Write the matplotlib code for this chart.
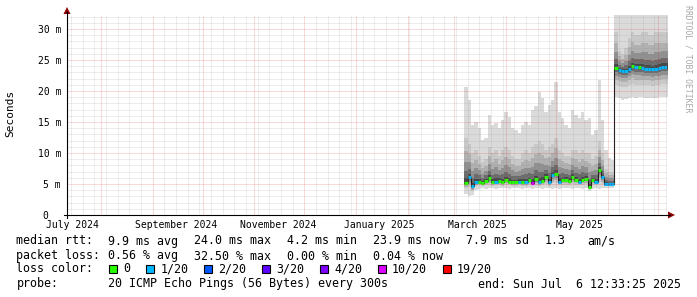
import numpy as np
import pandas as pd
import matplotlib
matplotlib.use("Agg")
import matplotlib.pyplot as plt
import matplotlib.dates as mdates
from matplotlib.lines import Line2D
from matplotlib.patches import Polygon, Rectangle

W, H = 697, 297
MONO = "DejaVu Sans Mono"

# graph covers the last 360 days
t_start = pd.Timestamp("2024-07-11 12:33:25")
t_end = pd.Timestamp("2025-07-06 12:33:25")

# first block (~5 ms), 2 day steps
s1_dates = pd.date_range("2025-03-07", periods=45, freq="2D")
s1_lo = [3.4, 3.1, 3.3, 4.0, 4.2, 4.3, 4.2, 4.3, 4.3, 4.2, 4.3, 4.3, 4.3, 4.2, 4.3,
         4.3, 4.3, 4.2, 4.3, 4.3, 4.2, 4.3, 4.3, 4.2, 4.3, 4.3, 4.2, 4.3, 4.2, 4.3,
         4.3, 4.3, 4.2, 4.3, 4.3, 4.2, 4.3, 3.9, 4.2, 4.3, 4.2, 4.3, 4.4, 4.4, 4.4]
s1_q1 = [4.3, 4.5, 3.8, 4.6, 4.8, 4.7, 4.8, 4.9, 4.7, 4.8, 4.8, 4.7, 4.9, 4.8, 4.7,
         4.7, 4.8, 4.7, 4.7, 4.9, 4.6, 4.9, 4.7, 4.8, 5.0, 4.7, 5.1, 5.2, 4.8, 4.9,
         4.9, 4.8, 5.0, 4.9, 4.8, 4.9, 5.0, 4.2, 4.9, 4.8, 5.4, 5.0, 4.6, 4.6, 4.6]
s1_med = [5.2, 6.1, 4.6, 5.3, 5.4, 5.2, 5.5, 5.9, 5.3, 5.4, 5.5, 5.3, 5.6, 5.4, 5.3,
          5.3, 5.4, 5.3, 5.3, 5.6, 5.2, 5.8, 5.3, 5.5, 6.1, 5.3, 6.4, 6.6, 5.4, 5.6,
          5.7, 5.5, 6.1, 5.6, 5.4, 5.7, 5.8, 4.5, 5.6, 5.4, 7.2, 6.1, 5.0, 5.0, 5.0]
s1_q3 = [12.5, 11.5, 10.0, 10.5, 9.5, 8.5, 9.0, 11.0, 10.0, 10.5, 9.5, 10.5, 11.0, 10.5, 9.5,
         9.0, 9.0, 10.0, 10.5, 10.0, 11.0, 11.5, 12.0, 11.5, 10.5, 11.0, 11.5, 12.5, 10.5, 10.0,
         9.5, 9.5, 10.5, 10.5, 10.0, 10.5, 10.0, 10.0, 9.0, 9.5, 12.0, 10.0, 7.5, 7.0, 7.0]
s1_hi = [20.6, 18.5, 14.5, 15.0, 14.0, 12.1, 12.4, 16.1, 14.5, 14.8, 14.0, 15.3, 16.6, 15.8, 14.0,
         13.7, 13.2, 14.5, 15.0, 14.5, 16.9, 17.6, 19.8, 18.9, 16.6, 17.7, 18.5, 21.5, 16.6, 15.6,
         14.5, 14.0, 16.9, 16.1, 15.6, 16.6, 15.3, 15.6, 12.9, 13.7, 21.8, 15.3, 10.5, 9.2, 8.9]
s1_loss = [0, 1, 1, 1, 0, 0, 0, 0, 0, 1, 0, 0, 0, 0, 0,
           0, 1, 0, 1, 0, 10, 0, 1, 0, 0, 1, 1, 0, 1, 0,
           0, 0, 0, 0, 1, 0, 0, 0, 0, 1, 0, 1, 1, 1, 1]

# second block (~24 ms) after the jump
s2_dates = pd.date_range("2025-06-05", periods=16, freq="2D")
s2_lo = [19.0, 18.8, 18.6, 18.7, 18.9, 19.0, 18.9, 19.0, 19.0, 18.9, 18.8, 18.8, 18.9, 19.0, 19.1, 19.1]
s2_q1 = [21.0, 20.8, 20.6, 20.7, 21.0, 21.2, 21.0, 21.0, 21.0, 20.9, 20.9, 20.8, 20.9, 21.0, 21.1, 21.1]
s2_med = [23.7, 23.4, 23.2, 23.2, 23.6, 24.0, 23.8, 23.8, 23.7, 23.6, 23.6, 23.5, 23.6, 23.7, 23.9, 23.9]
s2_q3 = [29.5, 26.5, 26.0, 27.0, 28.5, 29.5, 29.0, 29.0, 29.5, 29.5, 29.0, 29.0, 29.5, 29.5, 29.5, 29.5]
s2_hi = [34.5, 33.5, 33.0, 33.0, 34.0, 35.0, 34.5, 34.0, 35.0, 35.5, 35.0, 34.5, 35.0, 35.5, 35.0, 35.0]
s2_loss = [0, 1, 1, 1, 1, 0, 1, 0, 1, 1, 1, 1, 1, 1, 1, 1]

loss_colors = {0: "#26ff00", 1: "#00b8ff", 2: "#0059ff", 3: "#5e00ff",
               4: "#7e00ff", 10: "#dd00ff", 19: "#ff0000"}
loss_keys = [0, 1, 2, 3, 4, 10, 19]
loss_names = ["0", "1/20", "2/20", "3/20", "4/20", "10/20", "19/20"]

x_label_dates = ["2024-07-15", "2024-09-15", "2024-11-15", "2025-01-15", "2025-03-15", "2025-05-15"]
x_labels = ["July 2024", "September 2024", "November 2024", "January 2025", "March 2025", "May 2025"]
y_ticks = [0, 5, 10, 15, 20, 25, 30]
y_labels = ["0  ", "5 m", "10 m", "15 m", "20 m", "25 m", "30 m"]

legend_rows = [
    (241, [("median rtt:", 16.5), ("9.9 ms avg", 107.7), ("24.0 ms max", 193.6),
           ("4.2 ms min", 287), ("23.9 ms now", 373), ("7.9 ms sd", 466),
           ("1.3", 545), ("am/s", 587)]),
    (256, [("packet loss:", 16.5), ("0.56 % avg", 107.7), ("32.50 % max", 193.6),
           ("0.00 % min", 287), ("0.04 % now", 373)]),
    (269, [("loss color:", 16.5)]),
    (284, [("probe:", 16.5), ("20 ICMP Echo Pings (56 Bytes) every 300s", 107.7),
           ("end: Sun Jul  6 12:33:25 2025", 478.4)]),
]
box_x = [109, 146, 204, 262, 320, 377.5, 442.5]
STEP = 2.0  # days per bin

# smoke shading: fraction of the q1..q3 spread around the median, grey level
smoke_layers = [(1.0, "#c8c8c8"), (0.7, "#b0b0b0"), (0.45, "#909090"),
                (0.25, "#6c6c6c"), (0.1, "#484848")]


def fx(px):
    return px / W


def fy(py):
    return 1 - py / H


fig = plt.figure(figsize=(W / 100, H / 100), dpi=100)
fig.patch.set_facecolor("white")
ax = fig.add_axes([fx(67), fy(215), 600 / W, 200 / H])
ax.set_xlim(mdates.date2num(t_start), mdates.date2num(t_end))
ax.set_ylim(0, 32.26)
for s in ax.spines.values():
    s.set_visible(False)


def ext(a):
    a = np.asarray(a, float)
    return np.append(a, a[-1])


def smoke(dates, lo, q1, med, q3, hi):
    x = mdates.date2num(dates)
    xe = np.append(x, x[-1] + STEP)
    lo, q1, med, q3, hi = map(ext, (lo, q1, med, q3, hi))
    ax.fill_between(xe, lo, hi, step="post", color="#dadada", lw=0, zorder=1)
    for f, c in smoke_layers:
        ax.fill_between(xe, med - f * (med - q1), med + f * (q3 - med),
                        step="post", color=c, lw=0, zorder=1)


smoke(s1_dates, s1_lo, s1_q1, s1_med, s1_q3, s1_hi)
smoke(s2_dates, s2_lo, s2_q1, s2_med, s2_q3, s2_hi)

# median line, coloured by loss
x_all = np.concatenate([mdates.date2num(s1_dates), mdates.date2num(s2_dates)])
med_all = np.array(s1_med + s2_med)
loss_all = s1_loss + s2_loss
ax.step(np.append(x_all, x_all[-1] + STEP), ext(med_all), where="post",
        color="#202020", lw=0.8, zorder=3)
ax.hlines(med_all, x_all, x_all + STEP, colors=[loss_colors[l] for l in loss_all],
          lw=2.2, zorder=4)

# grid (drawn on top, like rrdtool)
grid_kw = dict(lw=0.72, ls=(0, (1, 1)), zorder=5)
minor_c = (0.55, 0.55, 0.55, 0.3)
major_c = (0.85, 0.1, 0.1, 0.32)
months = pd.date_range("2024-08-01", "2025-07-01", freq="MS")
for d in pd.date_range("2024-07-14", t_end, freq="7D"):
    if d not in months:
        ax.axvline(mdates.date2num(d), color=minor_c, **grid_kw)
for d in months:
    ax.axvline(mdates.date2num(d), color=major_c, **grid_kw)
for v in range(1, 33):
    ax.axhline(v, color=major_c if v % 5 == 0 else minor_c, **grid_kw)

ax.set_xticks(mdates.date2num(pd.to_datetime(x_label_dates)), x_labels)
ax.set_yticks(y_ticks, y_labels)
ax.tick_params(axis="x", length=0, pad=3.5, labelsize=7)
ax.tick_params(axis="y", length=0, pad=4.3, labelsize=7)
for lab in ax.get_xticklabels() + ax.get_yticklabels():
    lab.set_family(MONO)

# axes with arrows
fig.add_artist(Line2D([fx(64), fx(670)], [fy(215), fy(215)], color="#000000", lw=0.8))
fig.add_artist(Line2D([fx(67), fx(67)], [fy(218), fy(12)], color="#000000", lw=0.8))
fig.add_artist(Polygon([(fx(668), fy(211.5)), (fx(675), fy(215)), (fx(668), fy(218.5))],
                       closed=True, color="#8b0000", lw=0))
fig.add_artist(Polygon([(fx(63.5), fy(14)), (fx(67), fy(7)), (fx(70.5), fy(14))],
                       closed=True, color="#8b0000", lw=0))

fig.text(fx(10), fy(113), "Seconds", rotation=90, ha="center", va="center",
         family=MONO, fontsize=8)
fig.text(fx(688), fy(5), "RRDTOOL / TOBI OETIKER", rotation=270, ha="center", va="top",
         family=MONO, fontsize=5.9, color="#a8a8a8")

# legend / stats
for y, items in legend_rows:
    for txt, x in items:
        fig.text(fx(x), fy(y), txt, ha="left", va="center", family=MONO, fontsize=8.4)
for bx, key, name in zip(box_x, loss_keys, loss_names):
    fig.add_artist(Rectangle((fx(bx), fy(272.5)), 8 / W, 8 / H, facecolor=loss_colors[key],
                             edgecolor="black", lw=0.8))
    fig.text(fx(bx + 14.5), fy(269), name, ha="left", va="center", family=MONO, fontsize=8.4)

fig.savefig("out.png", dpi=100, facecolor="white")
